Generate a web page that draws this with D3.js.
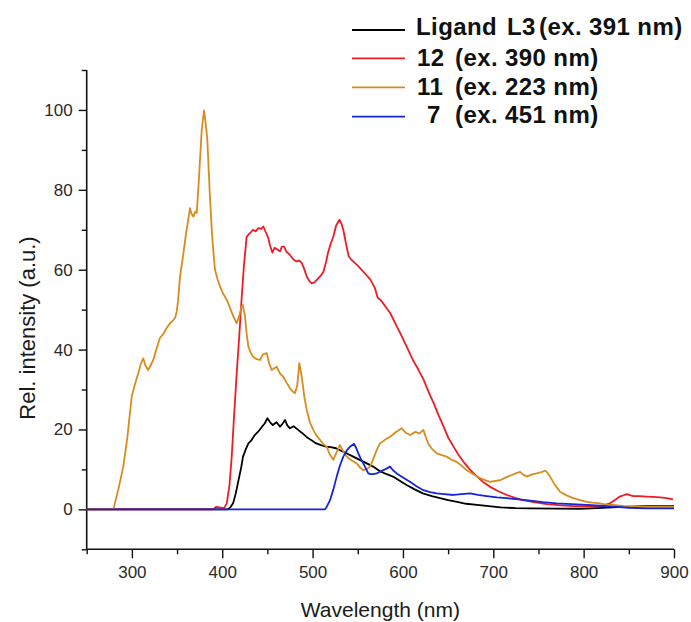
<!DOCTYPE html>
<html>
<head>
<meta charset="utf-8">
<script src="https://cdn.jsdelivr.net/npm/d3@7"></script>
<style>
  html, body { margin: 0; padding: 0; background: #fff; }
  svg { display: block; font-family: "Liberation Sans", Arial, sans-serif; }
</style>
</head>
<body>
<svg id="chart" width="691" height="622"></svg>
<script>
// Emission spectra: [wavelength (nm), relative intensity]
const ligandL3 = [
  [250,0],[406,0],[409,0.5],[412,1.5],[415,4],[418,7.3],[421,10.5],[423,13.2],[426,15],[429,16.5],
  [432,17.2],[436,18.6],[440,19.5],[444,20.7],[447,21.5],[450,22.8],[453,21.8],[456,21.1],[460,21.8],
  [464,20.7],[467,21.5],[469.5,22.4],[472,21],[475,20.3],[479,20.8],[484,19.9],[488,19.2],[493,18.2],
  [498,17.4],[504,16.5],[510,16],[515,15.7],[520,15.6],[526,15.3],[532,14.6],[538,14],[545,13.2],
  [552,12.4],[560,11.5],[567,10.7],[575,9.5],[582,8.8],[589,8.2],[596,7.2],[604,6.1],[613,5],[622,4],
  [632,3.3],[641,2.8],[650,2.3],[660,1.9],[670,1.4],[682,1.1],[695,0.8],[708,0.5],[725,0.3],[741,0.25],
  [770,0.2],[796,0.15],[815,0.3],[832,0.5],[850,0.7],[870,0.8],[900,0.8]
];

const complex12 = [
  [250,0],[390,0],[393,0.6],[397,0.5],[401,0.3],[403,0.6],[405,1.5],[408,6],[410.5,13.2],[413,23],
  [416,34],[419,44],[421.6,53.3],[424,61],[427,68.3],[431,69.2],[434,70],[437,69.6],[440,70.4],
  [443,70.2],[445.5,70.8],[448,69.5],[451,67.9],[453,66],[455.5,64.3],[458,65.5],[460,65.2],[464,64.6],
  [466,65.8],[468.5,65.8],[471,64.5],[475,63.7],[479,62.5],[482,62.1],[485,62.3],[488,61.7],[491,60],
  [493.5,58.3],[497,57],[499,56.6],[502,56.8],[505,57.5],[509,58.5],[512,59.5],[515,62],[517,64.2],
  [520,66.5],[523,68.3],[526,71],[529.6,72.5],[532,71.5],[534,70],[537,66.5],[540,63.3],[543,62.5],
  [545,62.1],[550,61],[554,60],[559,58.8],[564,57.5],[569,55.4],[572,53],[575,52.5],[580,51],[586,49.1],
  [591,46.8],[597,44.1],[604,40.8],[611,37.4],[617,35],[623,32.4],[628,29.6],[634,26.6],[639,23.8],
  [645,20.7],[650,18],[656,15.7],[661,13.8],[667,11.9],[674,10],[682,8.2],[689,6.8],[696,5.7],[705,4.6],
  [715,3.6],[724,2.9],[733,2.3],[745,1.8],[759,1.3],[775,1],[789,0.8],[805,0.8],[818,0.8],[824,1.1],
  [829,1.5],[835,2.4],[840,3.2],[845,3.6],[848,3.8],[852,3.5],[855,3.3],[862,3.3],[870,3.2],[877,3.1],
  [885,3],[892,2.8],[899,2.5]
];

const complex11 = [
  [250,0],[279.5,0],[285,5],[290.5,10.7],[295,18],[299.8,28.2],[303,31],[307,34],[310,36.5],[312.6,37.8],
  [315,36],[318,34.9],[321,36.2],[323.7,37.4],[327,40],[331,42.9],[335,44],[338.5,45.4],[342,46.5],
  [345.9,47.4],[348,48],[349.6,49.5],[351,52],[353.3,58.3],[357,64],[360,69.2],[362,72],[364.3,75.4],
  [366,74],[368,73.3],[370,74.5],[371.8,74.2],[374,82],[377.3,95],[379.9,99.9],[381.5,97],[383.5,92.6],
  [386,80],[388.4,70],[390,65],[392,60],[395,57.5],[397.5,55.8],[401,54],[405,52.5],[409,50.2],
  [412.3,48.3],[416,46.6],[419,48.5],[421,50.5],[422.7,51.2],[425.2,48.3],[427,44],[428.9,40.8],
  [432,39],[434.4,38.2],[438,37.6],[441.8,37.4],[445,38.8],[449.2,39.1],[452,36.5],[454.8,34.9],
  [458,35.4],[460.3,35.7],[464,34],[467.6,33.2],[471,31.8],[475,30.3],[478,29.5],[480.5,29.1],[483,31],
  [485.3,36.6],[488,33.2],[491,28],[493.5,24.9],[497,21.8],[500.8,19.9],[504,18.6],[508.2,17.4],
  [512,16.3],[515.6,15.7],[519,13.8],[522.9,12.4],[526,14],[530.3,16.1],[534,14.5],[537.7,13.2],
  [543,12.3],[548.8,11.5],[552,10.6],[556.1,9.8],[560,10.1],[563.6,10.7],[567,12.5],[571,14.9],
  [574.6,16.5],[580,17.4],[585.7,18.2],[592,19.3],[598.6,20.3],[603,19.2],[607.8,18.6],[614,19.4],
  [618,19],[622.6,19.9],[625,18.3],[628,16.5],[632,15.2],[637.4,14],[643,13.6],[648.4,13.2],[654,12.4],
  [659.5,11.9],[665,10.9],[670.6,9.8],[678,8.8],[685.3,7.8],[691,7.3],[696.4,6.9],[702,7.1],[707.5,7.3],
  [714,8],[720.4,8.6],[725,9],[729.6,9.4],[733,8.7],[737,8.2],[742,8.7],[748,9],[753,9.3],[757.3,9.7],
  [760,9.2],[762.8,8.2],[768,6.2],[773.9,4.4],[781,3.5],[788.6,2.8],[796,2.3],[803.4,1.9],[810,1.7],
  [818.1,1.5],[825,1.2],[832.9,1.1],[845,0.8],[860,0.6],[880,0.6],[900,0.6]
];

const complex7 = [
  [250,0],[513.8,0],[516,0.8],[519.3,2.3],[523,5],[526.7,8.2],[530,10.8],[534,13.2],[538,14.8],
  [541.4,15.7],[545.8,16.4],[548,15.5],[550.6,14],[553,12.8],[556.1,11.5],[559,10.2],[561.7,9],
  [564,8.8],[567.2,8.8],[571,9],[574.6,9.4],[580,10],[585.7,10.7],[589,9.8],[593.1,9],[600,8],
  [607.8,6.9],[615,5.8],[622.6,4.8],[630,4.3],[637.4,4],[646,3.8],[655.8,3.6],[665,3.8],[674.3,4],
  [683,3.6],[692.7,3.3],[704,3],[714.9,2.8],[728,2.5],[740.7,2.2],[755,1.8],[770.2,1.5],[787,1.3],
  [803.4,1.1],[818,0.9],[832.9,0.7],[850,0.4],[869.8,0.25],[900,0.25]
];

// Legend entries: compound label pieces and excitation wavelength
const seriesLabelParts = [["Ligand", "L3"], ["12"], ["11"], ["7"]];
const seriesExcitation = ["(ex. 391 nm)", "(ex. 390 nm)", "(ex. 223 nm)", "(ex. 451 nm)"];
const seriesColors = ["#000000", "#ee1c24", "#d98c1e", "#1424dc"];
const seriesData = [ligandL3, complex12, complex11, complex7];

// Axis ticks
const xMajorTicks = [300, 400, 500, 600, 700, 800, 900];
const xMinorTicks = [250, 350, 450, 550, 650, 750, 850];
const yMajorTicks = [0, 20, 40, 60, 80, 100];
const yMinorTicks = [-10, 10, 30, 50, 70, 90, 110];

const svg = d3.select("#chart");
const plot = { left: 86.7, right: 674, top: 70, bottom: 549.3 };

const x = d3.scaleLinear().domain([250, 900]).range([plot.left, plot.right]);
const y = d3.scaleLinear().domain([-10, 110]).range([plot.bottom, plot.top]);

// Axes
const axisColor = "#111";
const tickFont = 17;

svg.append("g").attr("transform", `translate(0,${plot.bottom})`)
  .call(d3.axisBottom(x).tickValues(xMinorTicks).tickSize(5).tickFormat(""))
  .call(g => g.select(".domain").remove());
svg.append("g").attr("transform", `translate(0,${plot.bottom})`)
  .call(d3.axisBottom(x).tickValues(xMajorTicks).tickSize(9).tickPadding(8).tickFormat(d3.format("d")))
  .call(g => g.select(".domain").remove());

svg.append("g").attr("transform", `translate(${plot.left},0)`)
  .call(d3.axisLeft(y).tickValues(yMinorTicks).tickSize(5).tickFormat(""))
  .call(g => g.select(".domain").remove());
svg.append("g").attr("transform", `translate(${plot.left},0)`)
  .call(d3.axisLeft(y).tickValues(yMajorTicks).tickSize(8).tickPadding(6).tickFormat(d3.format("d")))
  .call(g => g.select(".domain").remove());

svg.append("line").attr("x1", plot.left).attr("x2", plot.right)
  .attr("y1", plot.bottom).attr("y2", plot.bottom)
  .attr("stroke", axisColor).attr("stroke-width", 1.6);
svg.append("line").attr("x1", plot.left).attr("x2", plot.left)
  .attr("y1", plot.top).attr("y2", plot.bottom)
  .attr("stroke", axisColor).attr("stroke-width", 1.6);

svg.selectAll(".tick line").attr("stroke", axisColor).attr("stroke-width", 1.4);
svg.selectAll(".tick text")
  .attr("font-size", tickFont)
  .attr("fill", "#2a2a2a")
  .attr("font-family", "'Liberation Sans', Arial, sans-serif");

// Axis titles
svg.append("text")
  .attr("x", (plot.left + plot.right) / 2)
  .attr("y", 617)
  .attr("text-anchor", "middle")
  .attr("font-size", 21)
  .attr("fill", "#1a1a1a")
  .text("Wavelength (nm)");

svg.append("text")
  .attr("transform", "translate(35,328) rotate(-90)")
  .attr("text-anchor", "middle")
  .attr("font-size", 22)
  .attr("fill", "#1a1a1a")
  .text("Rel. intensity (a.u.)");

// Spectra
const line = d3.line().x(d => x(d[0])).y(d => y(d[1]));
svg.append("g").selectAll("path")
  .data(seriesData)
  .join("path")
  .attr("d", line)
  .attr("fill", "none")
  .attr("stroke", (d, i) => seriesColors[i])
  .attr("stroke-width", 1.8)
  .attr("stroke-linejoin", "round");

// Legend
const legendRows = [30, 58.3, 87.3, 116.7];
const legendBaselines = [35, 66, 95, 123];
const legendPartX = [[416, 507], [417], [417], [427]];
const legendExX = [539, 455, 455, 455];
const legend = svg.append("g")
  .attr("font-size", 24).attr("font-weight", "bold").attr("fill", "#111")
  .attr("letter-spacing", "0.4px");
seriesLabelParts.forEach((parts, i) => {
  legend.append("line")
    .attr("x1", 352).attr("x2", 405)
    .attr("y1", legendRows[i]).attr("y2", legendRows[i])
    .attr("stroke", seriesColors[i]).attr("stroke-width", 1.8);
  parts.forEach((p, j) => {
    legend.append("text")
      .attr("x", legendPartX[i][j]).attr("y", legendBaselines[i])
      .text(p);
  });
  legend.append("text")
    .attr("x", legendExX[i]).attr("y", legendBaselines[i])
    .text(seriesExcitation[i]);
});
</script>
</body>
</html>
